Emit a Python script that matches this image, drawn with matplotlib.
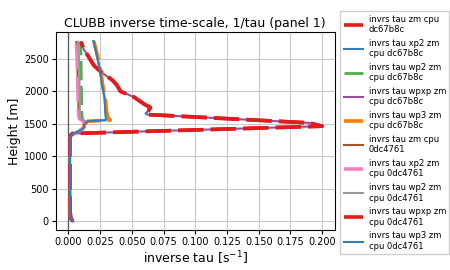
import matplotlib
matplotlib.use('Agg')
import matplotlib.pyplot as plt

# height levels [m] and inverse tau [1/s]
# A: zm / wpxp profile (big peak near 1450 m)
z_a = [0, 20, 60, 150, 500, 1000, 1290, 1320, 1350, 1463, 1514, 1643, 1660, 1700, 1750,
       1800, 1914, 2000, 2100, 2172, 2300, 2400, 2557, 2650, 2762]
x_a = [0.0035, 0.0025, 0.0016, 0.0013, 0.0012, 0.0011, 0.0011, 0.0016, 0.003, 0.200, 0.190,
       0.062, 0.0607, 0.063, 0.0646, 0.060, 0.0515, 0.041, 0.038, 0.0347, 0.0256, 0.020,
       0.0151, 0.012, 0.0099]

# B: xp2 / wp3 profile (blue)
z_b = [0, 20, 60, 150, 500, 1000, 1290, 1325, 1366, 1420, 1453, 1480, 1540, 1556, 1600,
       1700, 1900, 2100, 2300, 2500, 2775]
x_b = [0.0035, 0.0025, 0.0016, 0.0013, 0.0012, 0.0011, 0.0011, 0.002, 0.006, 0.011, 0.0125,
       0.012, 0.0151, 0.0295, 0.0295, 0.029, 0.0285, 0.0265, 0.025, 0.023, 0.0198]

# B': wp3 dc67b8c (orange), a touch right of blue
x_b2 = [0.0035, 0.0025, 0.0016, 0.0013, 0.0012, 0.0011, 0.0011, 0.002, 0.006, 0.011, 0.0125,
        0.012, 0.0151, 0.033, 0.031, 0.030, 0.029, 0.027, 0.0255, 0.0235, 0.020]

# left cluster (wp2 / zm 0dc4761 / xp2 0dc4761)
z_l = [0, 20, 60, 150, 500, 1000, 1290, 1325, 1366, 1420, 1453, 1540, 1580, 1650, 2000,
       2500, 2762]
x_c = [0.0035, 0.0025, 0.0016, 0.0013, 0.0012, 0.0011, 0.0011, 0.002, 0.006, 0.011, 0.0125,
       0.0125, 0.011, 0.0105, 0.0102, 0.0099, 0.0095]
x_d = [0.0035, 0.0025, 0.0016, 0.0013, 0.0012, 0.0011, 0.0011, 0.002, 0.006, 0.011, 0.0125,
       0.012, 0.0085, 0.008, 0.0075, 0.0068, 0.0062]
x_e = [0.0035, 0.0025, 0.0016, 0.0013, 0.0012, 0.0011, 0.0011, 0.002, 0.006, 0.011, 0.0125,
       0.0125, 0.0095, 0.009, 0.0088, 0.0083, 0.0078]

labels = ['invrs tau zm cpu\ndc67b8c', 'invrs tau xp2 zm\ncpu dc67b8c',
          'invrs tau wp2 zm\ncpu dc67b8c', 'invrs tau wpxp zm\ncpu dc67b8c',
          'invrs tau wp3 zm\ncpu dc67b8c', 'invrs tau zm cpu\n0dc4761',
          'invrs tau xp2 zm\ncpu 0dc4761', 'invrs tau wp2 zm\ncpu 0dc4761',
          'invrs tau wpxp zm\ncpu 0dc4761', 'invrs tau wp3 zm\ncpu 0dc4761']
series = [(x_a, z_a), (x_b, z_b), (x_c, z_l), (x_a, z_a), (x_b2, z_b),
          (x_d, z_l), (x_d, z_l), (x_e, z_l), (x_a, z_a), (x_b, z_b)]
colors = ['#e41a1c', '#377eb8', '#4daf4a', '#984ea3', '#ff7f00',
          '#a65628', '#f781bf', '#999999', '#e41a1c', '#377eb8']

fig = plt.figure(figsize=(4.5, 2.7), dpi=100)
ax = fig.add_axes([0.124, 0.148, 0.62, 0.733])

ax.axvline(0, color='0.35', lw=0.9)
for i, ((x, z), lab, c) in enumerate(zip(series, labels, colors)):
    if i % 2 == 0:
        lw = 2.0 if i == 2 else 2.6
        ax.plot(x, z, color=c, lw=lw, ls='--', dashes=(7, 2), label=lab)
    else:
        ax.plot(x, z, color=c, lw=1.5, label=lab)

ax.grid(True, color='#c8c8c8', lw=0.8)
ax.set_axisbelow(True)
ax.set_title('CLUBB inverse time-scale, 1/tau (panel 1)', fontsize=9, pad=4)
ax.set_xlabel('inverse tau [s$^{-1}$]', fontsize=9, labelpad=2)
ax.set_ylabel('Height [m]', fontsize=9, labelpad=2)
ax.tick_params(labelsize=7, length=3, pad=2)
ax.set_xticks([0, 0.025, 0.05, 0.075, 0.1, 0.125, 0.15, 0.175, 0.2])
ax.set_yticks([0, 500, 1000, 1500, 2000, 2500])

fig.legend(loc='upper left', bbox_to_anchor=(0.756, 0.958), fontsize=6,
           handlelength=2.3, handletextpad=0.7, labelspacing=0.56,
           borderaxespad=0, fancybox=False, framealpha=1, edgecolor='#d0d0d0')

fig.savefig('out.png', dpi=100)
